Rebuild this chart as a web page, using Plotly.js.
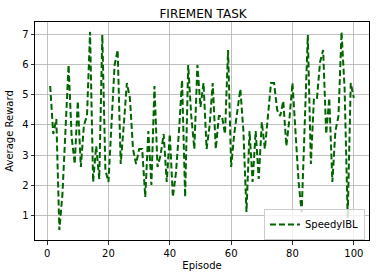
<!DOCTYPE html>
<html>
<head>
<meta charset="utf-8">
<script src="https://cdn.plot.ly/plotly-3.0.1.min.js"></script>
<style>html,body{margin:0;padding:0;background:#fff;}#chart{width:376px;height:278px;}</style>
</head>
<body>
<div id="chart"></div>
<script>
const episodes = Array.from({length: 100}, (_, i) => i + 1);
const speedyIBL = [
  5.3, 3.7, 4.2, 0.5, 1.7, 3.9, 6.0, 3.6, 2.7, 4.8,
  2.6, 4.0, 4.3, 7.1, 2.1, 3.3, 2.2, 7.0, 2.5, 2.1,
  4.1, 6.0, 6.5, 2.7, 4.0, 5.4, 4.9, 3.2, 2.7, 3.2,
  3.2, 1.6, 3.8, 2.0, 5.3, 2.6, 3.0, 3.7, 2.1, 3.7,
  1.6, 2.4, 3.8, 5.5, 1.6, 6.0, 4.3, 3.2, 6.0, 4.6,
  5.4, 3.2, 4.0, 5.4, 3.2, 4.3, 4.3, 3.7, 6.5, 2.6,
  3.7, 4.5, 5.2, 3.8, 1.1, 3.8, 2.1, 3.8, 2.2, 4.1,
  3.2, 4.3, 5.4, 5.4, 4.5, 4.3, 4.8, 3.3, 4.2, 5.4,
  3.9, 2.1, 1.1, 4.0, 7.0, 2.7, 4.9, 4.9, 6.1, 6.5,
  3.7, 4.9, 2.1, 3.8, 4.3, 7.1, 5.2, 0.9, 5.4, 4.9
];
const xTicks = [0, 20, 40, 60, 80, 100];
const yTicks = [1, 2, 3, 4, 5, 6, 7];

const font = {family: 'DejaVu Sans', size: 10, color: '#000'};
const axisCommon = {
  showline: true, linecolor: '#000', linewidth: 1, mirror: true,
  ticks: 'outside', ticklen: 3.5, tickwidth: 0.8, tickcolor: '#000',
  showgrid: true, gridcolor: '#b0b0b0', gridwidth: 0.8,
  zeroline: false, tickfont: font, automargin: false
};

Plotly.newPlot('chart', [{
  x: episodes, y: speedyIBL, type: 'scatter', mode: 'lines',
  name: 'SpeedyIBL',
  line: {color: '#006400', width: 2, dash: '6px,3px'}
}], {
  width: 376, height: 278,
  margin: {l: 35, r: 7, t: 22, b: 38, pad: 0},
  paper_bgcolor: '#fff', plot_bgcolor: '#fff',
  font: font,
  title: {text: 'FIREMEN TASK', font: {family: 'DejaVu Sans', size: 12, color: '#000'}, x: 0.54, xanchor: 'center', y: 0.965, yanchor: 'top'},
  xaxis: Object.assign({}, axisCommon, {
    range: [-3.95, 104.95], tickvals: xTicks, ticktext: xTicks.map(String),
    title: {text: 'Episode', font: font, standoff: 4}
  }),
  yaxis: Object.assign({}, axisCommon, {
    range: [0.17, 7.43], tickvals: yTicks, ticktext: yTicks.map(String),
    title: {text: 'Average Reward', font: font, standoff: 6}
  }),
  showlegend: true,
  legend: {
    x: 0.988, y: 0.0, xanchor: 'right', yanchor: 'bottom',
    bgcolor: 'rgba(255,255,255,0.8)', bordercolor: '#cccccc', borderwidth: 1,
    font: font, itemwidth: 30, tracegroupgap: 0
  }
}, {displayModeBar: false, staticPlot: true});
</script>
</body>
</html>
